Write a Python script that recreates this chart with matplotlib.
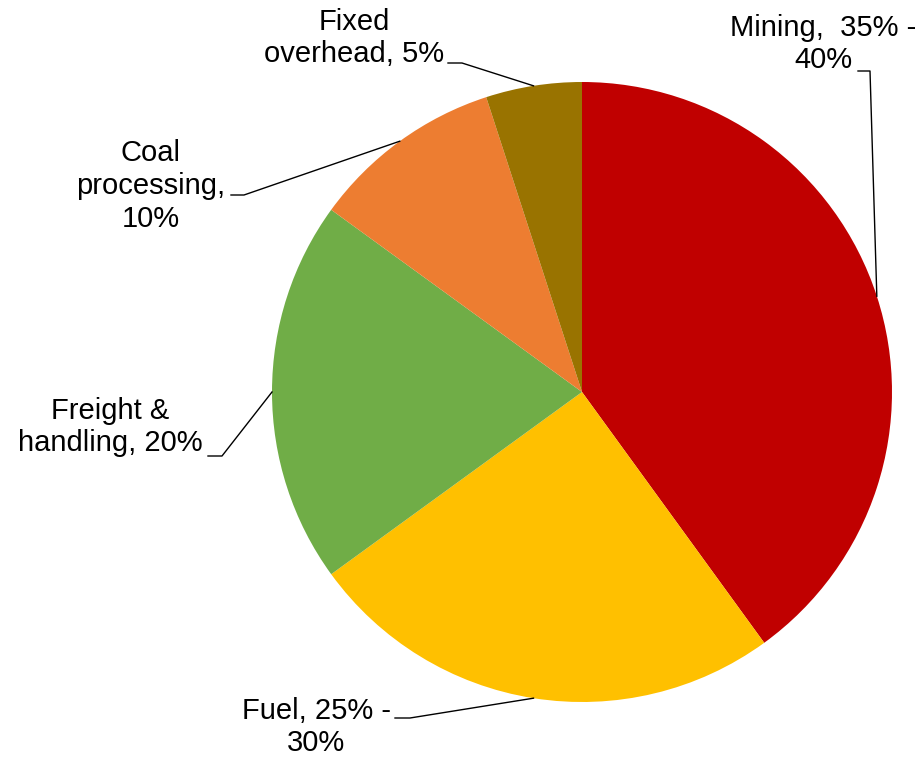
import numpy as np
import matplotlib.pyplot as plt

plt.rcParams["font.family"] = ["Liberation Sans", "DejaVu Sans"]

# cost share of each component (slice sizes), clockwise from the top
categories = ["Mining", "Fuel", "Freight & handling", "Coal processing", "Fixed overhead"]
shares = [40, 25, 20, 10, 5]
labels = [
    "Mining,  35% -\n40%",
    "Fuel, 25% -\n30%",
    "Freight &\nhandling, 20%",
    "Coal\nprocessing,\n10%",
    "Fixed\noverhead, 5%",
]
colors = ["#C00000", "#FFC000", "#70AD47", "#ED7D31", "#997300"]

W, H = 923, 757
# label centre (px), start of leader stub (px), end of stub (px)
label_pos = [(823, 44), (316, 727), (110, 427), (151, 186), (354, 38)]
stub = [((858, 71), (870, 71)), ((395, 718), (410, 718)), ((208, 456), (222, 456)),
        ((231, 195), (244, 195)), ((448, 63), (462, 63))]


def main():
    fig = plt.figure(figsize=(W / 100, H / 100), dpi=100)
    ax = fig.add_axes([0, 0, 1, 1])

    cx, cy, r = 582, H - 392, 310
    wedges, _ = ax.pie(shares, colors=colors, startangle=90, counterclock=False,
                       center=(cx, cy), radius=r, frame=True)
    ax.set_xlim(0, W)
    ax.set_ylim(0, H)
    ax.set_aspect("equal")
    ax.axis("off")

    for w, lab, (lx, ly), (s0, s1) in zip(wedges, labels, label_pos, stub):
        mid = np.deg2rad((w.theta1 + w.theta2) / 2)
        ex, ey = cx + r * np.cos(mid), cy + r * np.sin(mid)
        ax.plot([s0[0], s1[0], ex], [H - s0[1], H - s1[1], ey], color="black", lw=1)
        ax.text(lx, H - ly, lab, ha="center", va="center", fontsize=21,
                linespacing=1.22, multialignment="center")

    fig.savefig("out.png", dpi=100)


if __name__ == "__main__":
    main()
